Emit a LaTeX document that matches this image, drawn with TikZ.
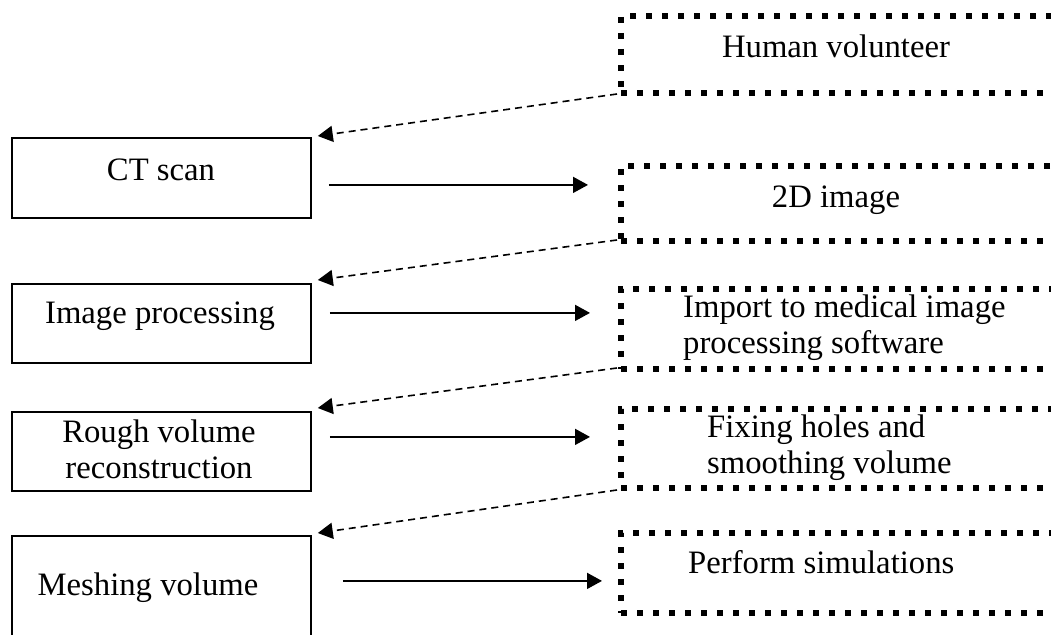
\documentclass[tikz,border=0pt]{standalone}
\usepackage{fontspec}
\setmainfont{Liberation Serif}
\usetikzlibrary{arrows.meta,calc}
\begin{document}
\begin{tikzpicture}[x=1pt,y=-1pt,
  lbox/.style={draw, line width=1.8pt, anchor=north west, minimum width=299pt, inner sep=0pt},
  rbox/.style={draw, line width=6pt, dash pattern=on 6pt off 10pt, anchor=north west, minimum width=433pt, inner sep=0pt},
  txt/.style={font=\fontsize{32.7}{36.5}\selectfont, inner sep=0pt},
  flow/.style={line width=1.6pt, -{Triangle[length=15pt,width=16pt]}},
  back/.style={line width=1.6pt, dash pattern=on 7pt off 5pt, -{Triangle[length=15pt,width=16pt]}}
]
\useasboundingbox (0,0) rectangle (1051,634);

% left boxes
\node[lbox, minimum height=80pt] (ct) at (11,137) {};
\node[lbox, minimum height=79pt] (ip) at (11,283) {};
\node[lbox, minimum height=79pt] (rv) at (11,411) {};
\node[lbox, minimum height=101pt] (mv) at (11,535) {};

% right boxes
\node[rbox, minimum height=77pt] (hv) at (618,13) {};
\node[rbox, minimum height=75pt] (d2) at (618,163) {};
\node[rbox, minimum height=80pt] (im) at (618,286) {};
\node[rbox, minimum height=79pt] (fx) at (618,406) {};
\node[rbox, minimum height=80pt] (ps) at (618,530) {};

% texts
\node[txt, anchor=base] (ct-t) at (161,180) {CT scan};
\node[txt, anchor=base] (ip-t) at (160,323) {Image processing};
\node[txt, anchor=base] (rv-t) at (159,442) {\vtop{\hbox to 0pt{\hss Rough volume\hss}\hbox to 0pt{\hss reconstruction\hss}}};
\node[txt, anchor=base] (mv-t) at (148,595) {Meshing volume};
\node[txt, anchor=base] (hv-t) at (836,58) {Human volunteer};
\node[txt, anchor=base] (d2-t) at (836,207) {2D image};
\begin{scope}
  \clip (im.north west) rectangle ($(im.south east)+(0,-8)$);
  \node[txt, anchor=base west] (im-t) at (683,317) {\vtop{\hbox{Import to medical image}\hbox{processing software}}};
\end{scope}
\begin{scope}
  \clip (fx.north west) rectangle ($(fx.south east)+(0,-8)$);
  \node[txt, anchor=base west] (fx-t) at (707,437) {\vtop{\hbox{Fixing holes and}\hbox{smoothing volume}}};
\end{scope}
\node[txt, anchor=base west] (ps-t) at (688,573) {Perform simulations};

% forward arrows
\draw[flow] ($(ct.east)+(17,7)$) -- ($(ct.east -| d2.west)+(-30,7)$);
\draw[flow] ($(ip.east)+(18,-10.5)$) -- ($(ip.east -| im.west)+(-28,-10.5)$);
\draw[flow] ($(rv.east)+(18,-14.5)$) -- ($(rv.east -| fx.west)+(-28,-14.5)$);
\draw[flow] ($(mv.east)+(31,-5.5)$) -- ($(mv.east -| ps.west)+(-16,-5.5)$);

% back arrows
\draw[back] ($(hv.south west)+(-1,-2)$) -- ($(ct.north east)+(6,-1)$);
\draw[back] ($(d2.south west)+(-1,-4)$) -- ($(ip.north east)+(6,-3)$);
\draw[back] ($(im.south west)+(-1,-4)$) -- ($(rv.north east)+(6,-3)$);
\draw[back] ($(fx.south west)+(-1,-1)$) -- ($(mv.north east)+(6,-2)$);
\end{tikzpicture}
\end{document}
